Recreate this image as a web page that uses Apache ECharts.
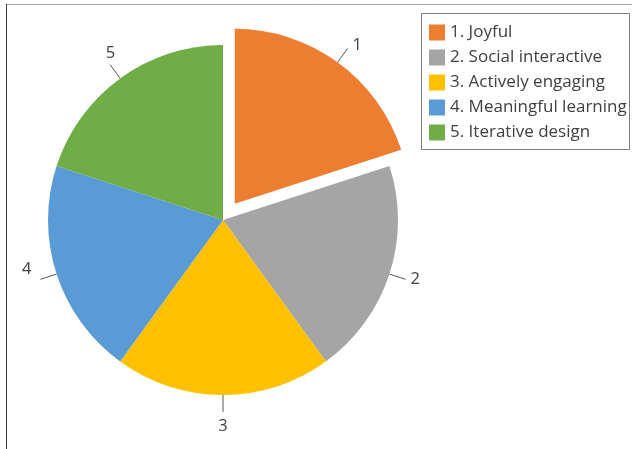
<!DOCTYPE html>
<html>
<head>
<meta charset="utf-8">
<script src="https://cdn.jsdelivr.net/npm/echarts@6/dist/echarts.min.js"></script>
<style>
  html, body { margin: 0; padding: 0; background: #fff; }
  #chart { width: 632px; height: 449px; }
</style>
</head>
<body>
<div id="chart"></div>
<script>
// Five design principles, equal shares
const categories = ['1. Joyful', '2. Social interactive', '3. Actively engaging', '4. Meaningful learning', '5. Iterative design'];
const sliceLabels = ['1', '2', '3', '4', '5'];
const values = [1, 1, 1, 1, 1];
const colors = ['#ED7D31', '#A5A5A5', '#FFC000', '#5B9BD5', '#70AD47'];

const chart = echarts.init(document.getElementById('chart'));
const font = '"Open Sans", Lato, sans-serif';

// small nudges so each number sits at the tip of its leader line
const labelNudge = [
  { dx: 0, dy: -3 },
  {},
  { align: 'center', verticalAlign: 'top', dx: -5, dy: 6 },
  { dx: -4, dy: -10 },
  { dx: 10, dy: -11 }
];

chart.setOption({
  animation: false,
  backgroundColor: '#fff',
  graphic: [
    // frame edges
    { type: 'line', shape: { x1: 6, y1: 4.5, x2: 640, y2: 4.5 }, style: { stroke: '#a6a6a6', lineWidth: 1 } },
    { type: 'line', shape: { x1: 6.5, y1: 4, x2: 6.5, y2: 460 }, style: { stroke: '#404040', lineWidth: 1 } },
    // legend box
    { type: 'rect', shape: { x: 421.5, y: 13.5, width: 208, height: 136 }, style: { fill: 'none', stroke: '#7f7f7f', lineWidth: 1 } }
  ],
  legend: {
    orient: 'vertical',
    left: 429,
    top: 24,
    padding: 0,
    icon: 'rect',
    itemWidth: 16,
    itemHeight: 16,
    itemGap: 8,
    selectedMode: false,
    textStyle: { fontFamily: font, fontSize: 17, color: '#404040' },
    data: categories
  },
  series: [{
    type: 'pie',
    center: [223, 220],
    radius: 175,
    startAngle: 90,
    clockwise: true,
    selectedMode: 'single',
    selectedOffset: 20,
    label: {
      show: true,
      position: 'outside',
      fontFamily: font,
      fontSize: 16.5,
      color: '#404040',
      formatter: p => sliceLabels[p.dataIndex]
    },
    labelLine: {
      show: true,
      length: 17,
      length2: 0,
      lineStyle: { color: '#595959', width: 1 }
    },
    labelLayout: p => labelNudge[p.dataIndex],
    itemStyle: { borderWidth: 0 },
    emphasis: { disabled: true },
    data: categories.map((name, i) => ({
      name,
      value: values[i],
      selected: i === 0,
      itemStyle: { color: colors[i] }
    }))
  }]
});
</script>
</body>
</html>
